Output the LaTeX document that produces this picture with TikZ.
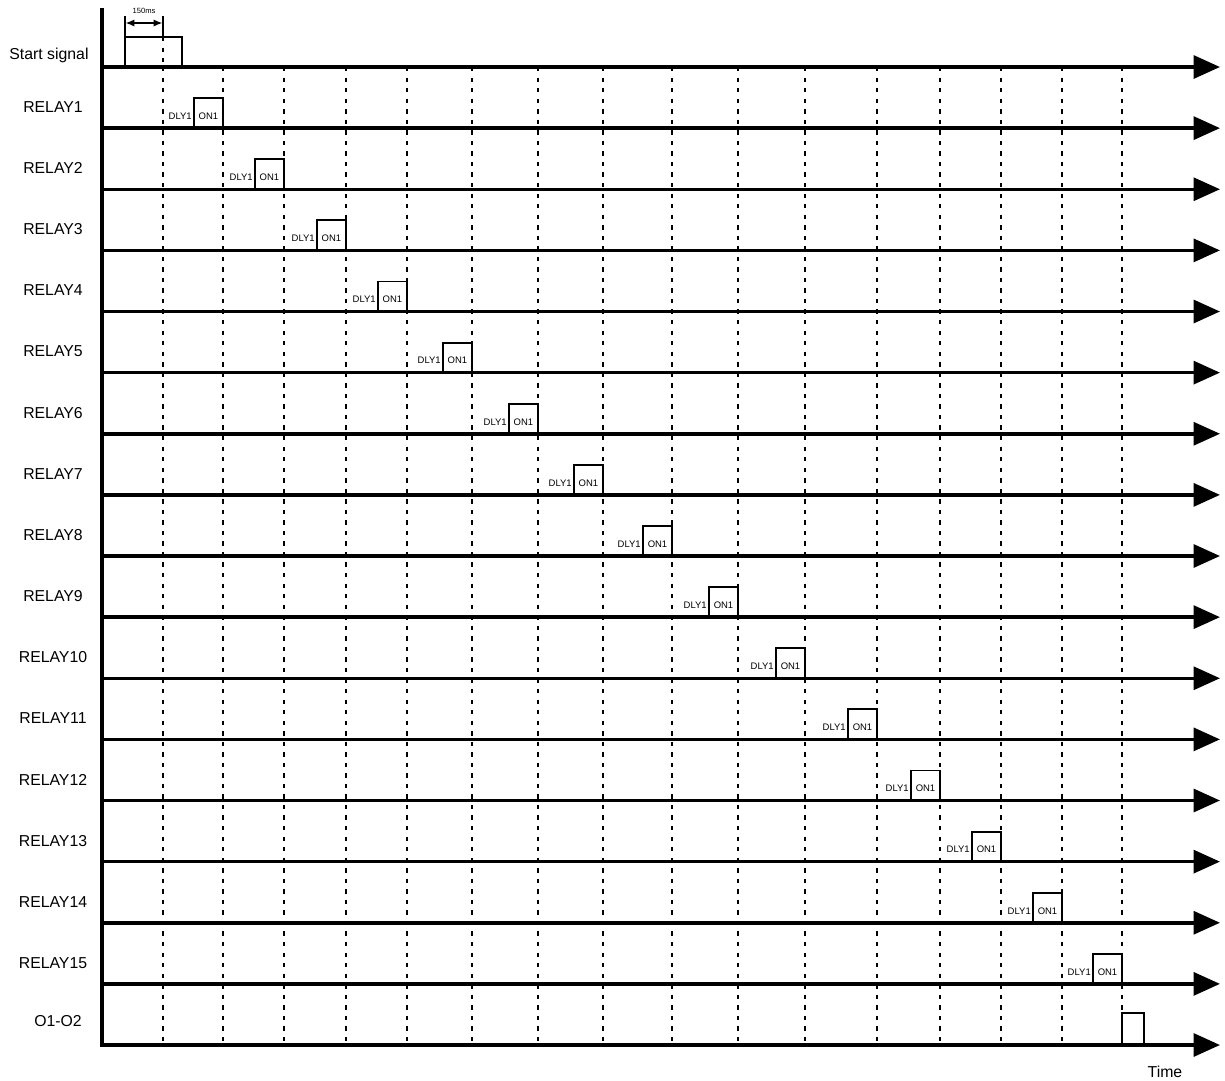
\documentclass[tikz,border=0pt]{standalone}
\usepackage{fontspec}
\setmainfont{Liberation Sans}
\usetikzlibrary{arrows.meta}
\begin{document}
\begin{tikzpicture}[x=0.02cm,y=-0.02cm,line join=miter,
  lbl/.style={font=\fontsize{9}{10}\selectfont,inner sep=1pt},
  small/.style={font=\fontsize{5.4}{6}\selectfont,inner sep=0.5pt},
  axis/.style={line width=2pt,-{Triangle[length=15pt,width=13pt]}},
  pulse/.style={line width=1.1pt},
  grid/.style={line width=0.9pt,dash pattern=on 2.5pt off 3.5pt}]
\useasboundingbox (0,0) rectangle (1225,1080);
\def\dy{61.125}
% time grid
\foreach \x[count=\k from 0] in {163,223,284,346,407,472,538,603,672,738,805,877,940,1001,1062,1122}{\coordinate (gt\k) at (\x,67);\coordinate (gb\k) at (\x,1045);\draw[grid] (gt\k)--(gb\k);}
\draw[grid] (163,37)--(gt0);
% axes
\foreach \i in {0,...,16}{\coordinate (l\i) at (102,{67+\i*\dy});\coordinate (r\i) at (1220,{67+\i*\dy});\draw[axis] (l\i)--(r\i);}
\coordinate (top) at (102,8);\draw[line width=2.2pt] (top)--([yshift=-1pt]l16);
% signal names
\node[lbl] (start) at (49,55) {Start signal};
\foreach \i in {1,...,15}{\node[lbl] (name\i) at (53,{67+\i*\dy-21}) {RELAY\i};}
\node[lbl] (name16) at (58,1021) {O1-O2};
\node[lbl] (time) at (1165,1072) {Time};
% start pulse and 150ms width
\draw[pulse] (125,67) |- (182,37) -- (182,67);
\draw[line width=0.6pt] (125,37)--(125,16) (163,37)--(163,16);
\draw[line width=0.8pt,{Latex[length=5pt,width=4pt]}-{Latex[length=5pt,width=4pt]}] (125.5,23)--(162.5,23);
\node[font=\fontsize{4.3}{5}\selectfont,inner sep=0pt] (dur) at (144,11) {150ms};
% relay pulses
\foreach \x[count=\k] in {223,284,346,407,472,538,603,672,738,805,877,940,1001,1062,1122}{
\draw[pulse] ({\x-29},{67+\k*\dy}) |- ++(29,-30) -- (\x,{67+\k*\dy});
\node[small] (on\k) at ({\x-14.5},{67+\k*\dy-12}) {ON1};
\node[small,anchor=east] (dly\k) at ({\x-30},{67+\k*\dy-12}) {DLY1};}
\draw[pulse] (1122,1045) |- (1144,1013) -- (1144,1045);
\end{tikzpicture}
\end{document}
